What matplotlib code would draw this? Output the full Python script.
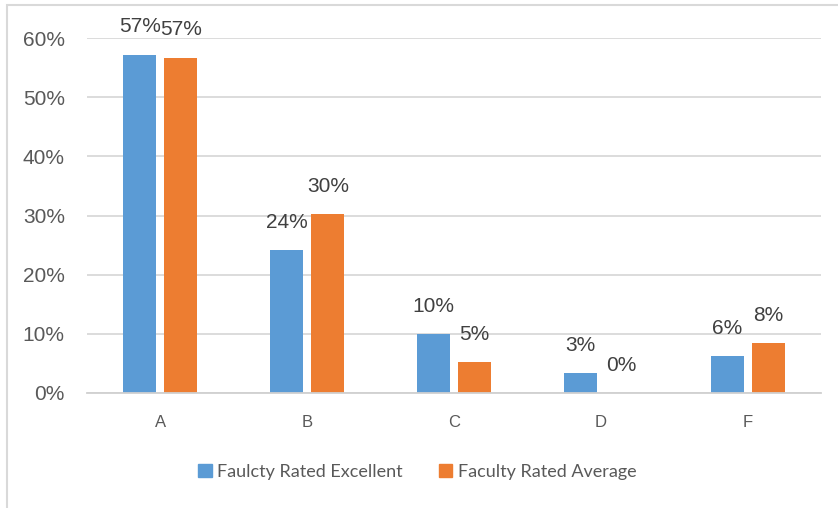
import matplotlib
matplotlib.use("Agg")
import matplotlib.pyplot as plt
from matplotlib.patches import Rectangle, Patch
import numpy as np

# grades and share of students
grades = ['A', 'B', 'C', 'D', 'F']
excellent = [0.572, 0.241, 0.099, 0.034, 0.062]
average = [0.567, 0.302, 0.052, 0.0, 0.084]
series_names = ['Faulcty Rated Excellent', 'Faculty Rated Average']

blue = '#5b9bd5'
orange = '#ed7d31'
gray_txt = '#595959'

fig = plt.figure(figsize=(8.38, 5.08), dpi=100)
ax = fig.add_axes([87 / 838, 115 / 508, (821 - 87) / 838, (393 - 38) / 508])

x = np.arange(len(grades))
w = 0.225
off = 0.14
b1 = ax.bar(x - off, excellent, w, color=blue, zorder=3)
b2 = ax.bar(x + off, average, w, color=orange, zorder=3)

for bars, vals in [(b1, excellent), (b2, average)]:
    for r, v in zip(bars, vals):
        ax.annotate('{:.0f}%'.format(v * 100), (r.get_x() + r.get_width() / 2, v),
                    xytext=(0, 20), textcoords='offset points', ha='center', va='center',
                    fontsize=15, color='#404040', family='Liberation Sans',
                    annotation_clip=False)

ax.set_xlim(-0.5, 4.5)
ax.set_ylim(0, 0.6)
ax.set_yticks(np.arange(0, 0.61, 0.1))
ax.set_yticklabels(['{:.0f}%'.format(t * 100) for t in np.arange(0, 0.61, 0.1)],
                   fontsize=15, color=gray_txt, family='Liberation Sans')
ax.set_xticks(x)
ax.set_xticklabels(grades, fontsize=12, color=gray_txt, family='Liberation Sans')
ax.tick_params(length=0)
ax.tick_params(axis='y', pad=16)
ax.tick_params(axis='x', pad=16)
ax.grid(axis='y', color='#d9d9d9', linewidth=1.3, zorder=0)
for s in ['top', 'right', 'left']:
    ax.spines[s].set_visible(False)
ax.spines['bottom'].set_color('#d0d0d0')
ax.spines['bottom'].set_linewidth(1.3)
ax.spines['bottom'].set_zorder(4)

# chart border (top and left edges visible)
fig.patches.append(Rectangle((7 / 838, -0.1), 1.2, (508 - 5) / 508 + 0.1,
                             transform=fig.transFigure, fill=False,
                             edgecolor='#d9d9d9', linewidth=1.5))

handles = [Patch(color=blue), Patch(color=orange)]
fig.legend(handles, series_names, loc='center', bbox_to_anchor=(0.498, 0.071),
           ncol=2, frameon=False, prop={'family': 'Lato', 'size': 13},
           labelcolor=gray_txt, handlelength=0.75, handleheight=0.75,
           handletextpad=0.3, columnspacing=2.0)

fig.savefig('out.png', dpi=100)
